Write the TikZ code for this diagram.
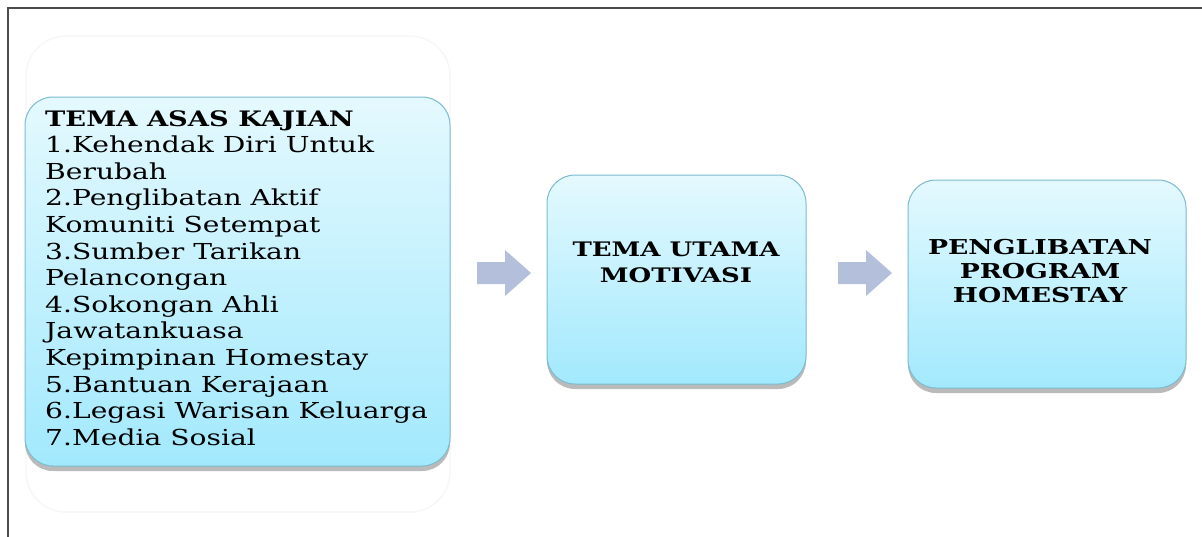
\documentclass[tikz,border=0pt]{standalone}
\usepackage{fontspec}
\newfontfamily\bk[FakeStretch=1.28]{DejaVu Serif}
\newfontfamily\bkb[FakeStretch=1.3]{DejaVu Serif}
\usetikzlibrary{shadows}
\definecolor{topc}{HTML}{E4F9FE}
\definecolor{botc}{HTML}{A2E9FD}
\definecolor{edgec}{HTML}{7DBBCF}
\definecolor{arrc}{HTML}{B3BFDB}
\tikzset{
  themebox/.style={draw=edgec, line width=1pt, rounded corners=28pt, top color=topc, bottom color=botc,
    drop shadow={shadow xshift=0pt, shadow yshift=-5pt, opacity=0.45, fill=black!60}},
  boxtext/.style={inner sep=0pt, font=\bkb\bfseries\fontsize{20.5}{24}\selectfont, align=center},
  listtext/.style={inner sep=0pt, font=\bk\fontsize{22}{26.6}\selectfont, align=left, anchor=north west},
  blockarrow/.style={fill=arrc, draw=none}
}
\begin{document}
\begin{tikzpicture}[x=1pt,y=-1pt]
\useasboundingbox (0,0) rectangle (1202,536);
\fill[white] (0,0) rectangle (1202,536);
% frame
\draw[line width=1.3pt, black!70] (8,540) -- (8,8) -- (1210,8);
% faint ghost
\draw[black!3, line width=1.5pt, rounded corners=40pt] (26,36) rectangle (450,512);
% boxes
\node[themebox, minimum width=425pt, minimum height=369pt] (asas) at (237.5,281.5) {};
\node[themebox, minimum width=259pt, minimum height=209pt] (utama) at (676.5,279.5) {};
\node[themebox, minimum width=278pt, minimum height=208pt] (libat) at (1047,284) {};
% texts
\node[listtext] (asastext) at (45,110) {{\bfseries\fontsize{21.3}{26.6}\selectfont TEMA ASAS KAJIAN}\\1.Kehendak Diri Untuk\\Berubah\\2.Penglibatan Aktif\\Komuniti Setempat\\3.Sumber Tarikan\\Pelancongan\\4.Sokongan Ahli\\Jawatankuasa\\Kepimpinan Homestay\\5.Bantuan Kerajaan\\6.Legasi Warisan Keluarga\\7.Media Sosial};
\node[boxtext, font=\bkb\bfseries\fontsize{20}{26}\selectfont] (utamatext) at (676,262) {TEMA UTAMA\\MOTIVASI};
\node[boxtext] (libattext) at (1040,271) {PENGLIBATAN\\PROGRAM\\HOMESTAY};
% block arrows
\fill[blockarrow] (477,262) -- (505,262) -- (505,250) -- (531,273) -- (505,296) -- (505,284) -- (477,284) -- cycle;
\fill[blockarrow] (838,262) -- (866,262) -- (866,250) -- (892,273) -- (866,296) -- (866,284) -- (838,284) -- cycle;
\end{tikzpicture}
\end{document}
